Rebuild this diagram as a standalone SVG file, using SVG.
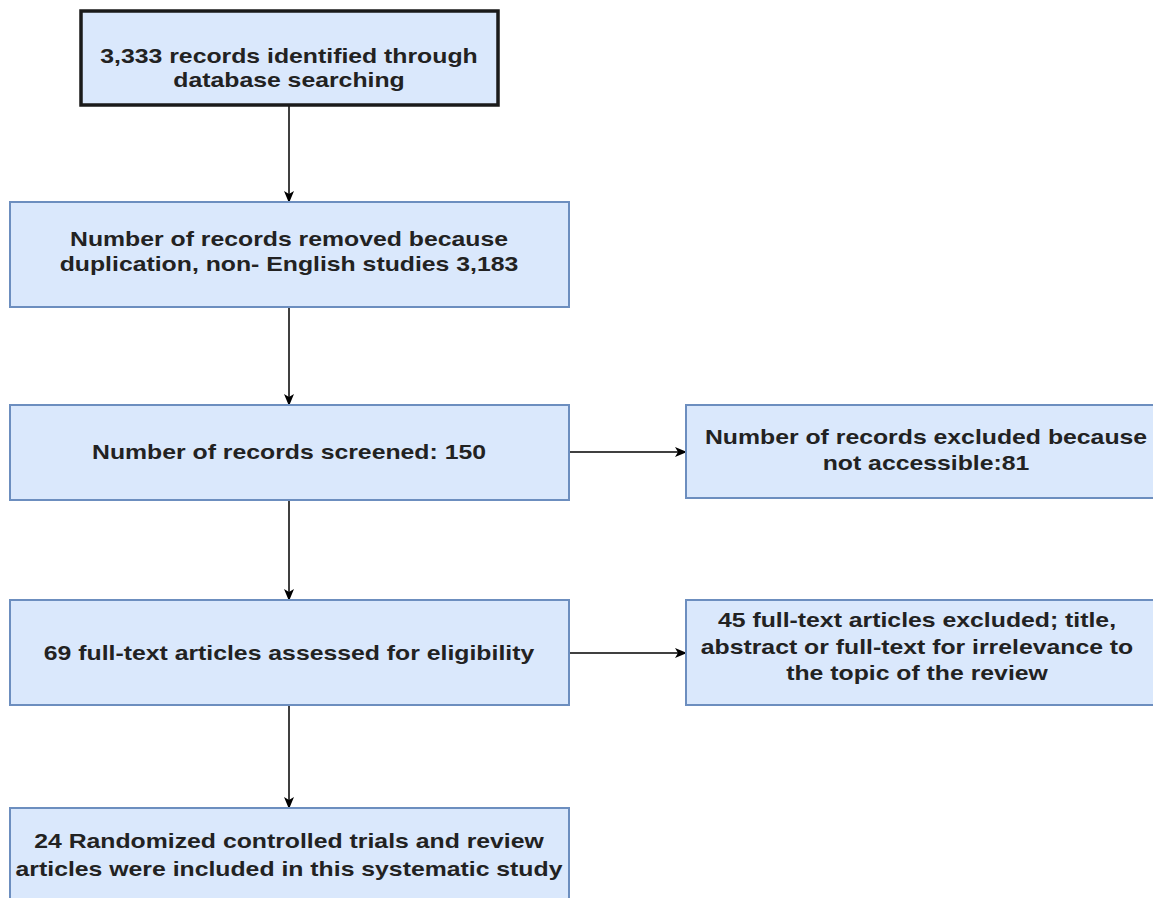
<svg xmlns="http://www.w3.org/2000/svg" width="1153" height="898" viewBox="0 0 1153 898">
<style>
.box{fill:#dae8fc;stroke:#6c8ebf;stroke-width:2}
.box1{fill:#dae8fc;stroke:#1a1a1a;stroke-width:3.5}
text{font-family:"Liberation Sans",Arial,sans-serif;font-weight:bold;font-size:20px;fill:#222;text-anchor:middle}
.edge{stroke:#000;stroke-width:1.5;fill:none;marker-end:url(#arr)}
</style>
<defs>
<marker id="arr" markerWidth="12" markerHeight="12" refX="10" refY="5" orient="auto" markerUnits="userSpaceOnUse" viewBox="0 0 12 10">
<path d="M0,0 L12,5 L0,10 L3,5 Z" fill="#000"/>
</marker>
</defs>
<rect width="1153" height="898" fill="#fff"/>
<g id="connectors">
<line class="edge" x1="289" y1="106" x2="289" y2="201"/>
<line class="edge" x1="289" y1="307" x2="289" y2="404"/>
<line class="edge" x1="289" y1="500" x2="289" y2="599"/>
<line class="edge" x1="289" y1="705" x2="289" y2="807"/>
<line class="edge" x1="569" y1="452" x2="685" y2="452"/>
<line class="edge" x1="569" y1="653" x2="685" y2="653"/>
</g>
<g id="n1">
<rect class="box1" x="81" y="11" width="417" height="94"/>
<g transform="translate(289 0) scale(1.24 1)">
<text x="0" y="63">3,333 records identified through</text>
<text x="0" y="87">database searching</text>
</g>
</g>
<g id="n2">
<rect class="box" x="10" y="202" width="559" height="105"/>
<g transform="translate(289 0) scale(1.24 1)">
<text x="0" y="246">Number of records removed because</text>
<text x="0" y="271">duplication, non- English studies 3,183</text>
</g>
</g>
<g id="n3">
<rect class="box" x="10" y="405" width="559" height="95"/>
<g transform="translate(289 0) scale(1.24 1)">
<text x="0" y="459">Number of records screened: 150</text>
</g>
</g>
<g id="n4">
<rect class="box" x="686" y="405" width="480" height="93"/>
<g transform="translate(926 0) scale(1.24 1)">
<text x="0" y="444">Number of records excluded because</text>
<text x="0" y="470">not accessible:81</text>
</g>
</g>
<g id="n5">
<rect class="box" x="10" y="600" width="559" height="105"/>
<g transform="translate(289 0) scale(1.24 1)">
<text x="0" y="660">69 full-text articles assessed for eligibility</text>
</g>
</g>
<g id="n6">
<rect class="box" x="686" y="600" width="480" height="105"/>
<g transform="translate(917 0) scale(1.24 1)">
<text x="0" y="627">45 full-text articles excluded; title,</text>
<text x="0" y="654">abstract or full-text for irrelevance to</text>
<text x="0" y="680">the topic of the review</text>
</g>
</g>
<g id="n7">
<rect class="box" x="10" y="808" width="559" height="100"/>
<g transform="translate(289 0) scale(1.24 1)">
<text x="0" y="848">24 Randomized controlled trials and review</text>
<text x="0" y="876">articles were included in this systematic study</text>
</g>
</g>
</svg>
